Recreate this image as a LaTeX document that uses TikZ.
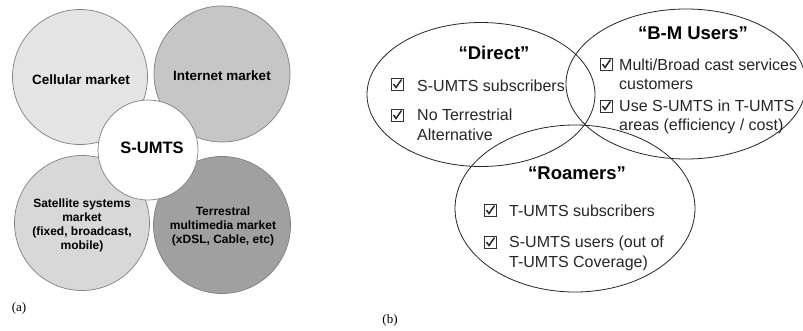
\documentclass[tikz,border=0pt]{standalone}
\usepackage{fontspec}
\setmainfont{Liberation Sans}
\newfontfamily\capfont{Liberation Serif}
\usetikzlibrary{shapes.geometric}
\definecolor{cellfill}{HTML}{E4E4E4}
\definecolor{netfill}{HTML}{C6C6C6}
\definecolor{satfill}{HTML}{D8D8D8}
\definecolor{terfill}{HTML}{A0A0A0}
\definecolor{ringline}{HTML}{808080}
\tikzset{
  market/.style={circle, draw=ringline, line width=0.7pt, inner sep=0pt, align=center,
    font=\fontsize{12}{14}\selectfont\bfseries},
  venn/.style={ellipse, draw=black!85, line width=0.8pt, inner sep=0pt},
  vtitle/.style={inner sep=0pt, font=\fontsize{18.5}{20}\selectfont\bfseries},
  vitem/.style={inner sep=0pt, anchor=west, align=left, font=\fontsize{16}{19.5}\selectfont, text=black!85},
  chkbox/.style={draw=black!80, line width=1pt, minimum size=12pt, inner sep=0pt,
    path picture={\draw[line width=1.5pt, black!85]
      ([xshift=2.5pt,yshift=6pt]path picture bounding box.south west) --
      ([xshift=5pt,yshift=2.5pt]path picture bounding box.south west) --
      ([xshift=10.5pt,yshift=10.5pt]path picture bounding box.south west);}},
  sublabel/.style={inner sep=0pt, font=\capfont\fontsize{13}{15}\selectfont}
}
\begin{document}
\begin{tikzpicture}[x=1pt,y=-1pt]
\clip (0,0) rectangle (803,330);
\fill[white] (0,0) rectangle (803,330);
% ---------- (a)
\node[market, fill=cellfill, minimum size=135pt] (cell) at (80,77) {};
\node[market, fill=netfill, minimum size=136pt] (net) at (222,74) {};
\node[market, fill=satfill, minimum size=135pt] (sat) at (82,223) {};
\node[market, fill=terfill, minimum size=137pt] (ter) at (222,225) {};
\node[market, fill=white, minimum size=100pt] (sumts) at (148,150) {};
\node[inner sep=0pt, font=\fontsize{13.5}{15}\selectfont\bfseries] (celltxt) at (81,80) {Cellular market};
\node[inner sep=0pt, font=\fontsize{13.5}{15}\selectfont\bfseries] (nettxt) at (222,76) {Internet market};
\node[inner sep=0pt, font=\fontsize{16.5}{18}\selectfont\bfseries] (sumtstxt) at (152,148) {S-UMTS};
\node[inner sep=0pt, align=center, font=\fontsize{12}{14.2}\selectfont\bfseries] (sattxt) at (82,225.5) {Satellite systems\\market\\(fixed, broadcast,\\mobile)};
\node[inner sep=0pt, align=center, font=\fontsize{12}{14}\selectfont\bfseries] (tertxt) at (223,226) {Terrestral\\multimedia market\\(xDSL, Cable, etc)};
\node[sublabel] (la) at (19,308) {(a)};
% ---------- (b)
\node[venn, minimum width=228pt, minimum height=144pt] (direct) at (481,94.5) {};
\node[venn, minimum width=240pt, minimum height=150pt] (bm) at (686,84) {};
\node[venn, minimum width=240pt, minimum height=167pt] (roam) at (575,208.5) {};
\node[vtitle] (directT) at (494,53) {“Direct”};
\node[vtitle] (bmT) at (693,33) {“B-M Users”};
\node[vtitle] (roamT) at (577,173) {“Roamers”};
% Direct items
\node[chkbox] (c1) at (397,84) {};
\node[vitem] (t1) at (417,86) {S-UMTS subscribers};
\node[chkbox] (c2) at (397,115) {};
\node[vitem] (t2) at (417,125) {No Terrestrial\\Alternative};
% B-M items
\node[chkbox] (c3) at (606,64) {};
\node[vitem] (t3) at (619,74.5) {Multi/Broad cast services\\customers};
\node[chkbox] (c4) at (606,106) {};
\node[vitem] (t4) at (619,117) {Use S-UMTS in T-UMTS\\areas (efficiency / cost)};
% Roamers items
\node[chkbox] (c5) at (490,210) {};
\node[vitem] (t5) at (509,211) {T-UMTS subscribers};
\node[chkbox] (c6) at (490,242) {};
\node[vitem] (t6) at (509,253.5) {S-UMTS users (out of\\T-UMTS Coverage)};
\node[sublabel] (lb) at (390,320) {(b)};
\end{tikzpicture}
\end{document}
